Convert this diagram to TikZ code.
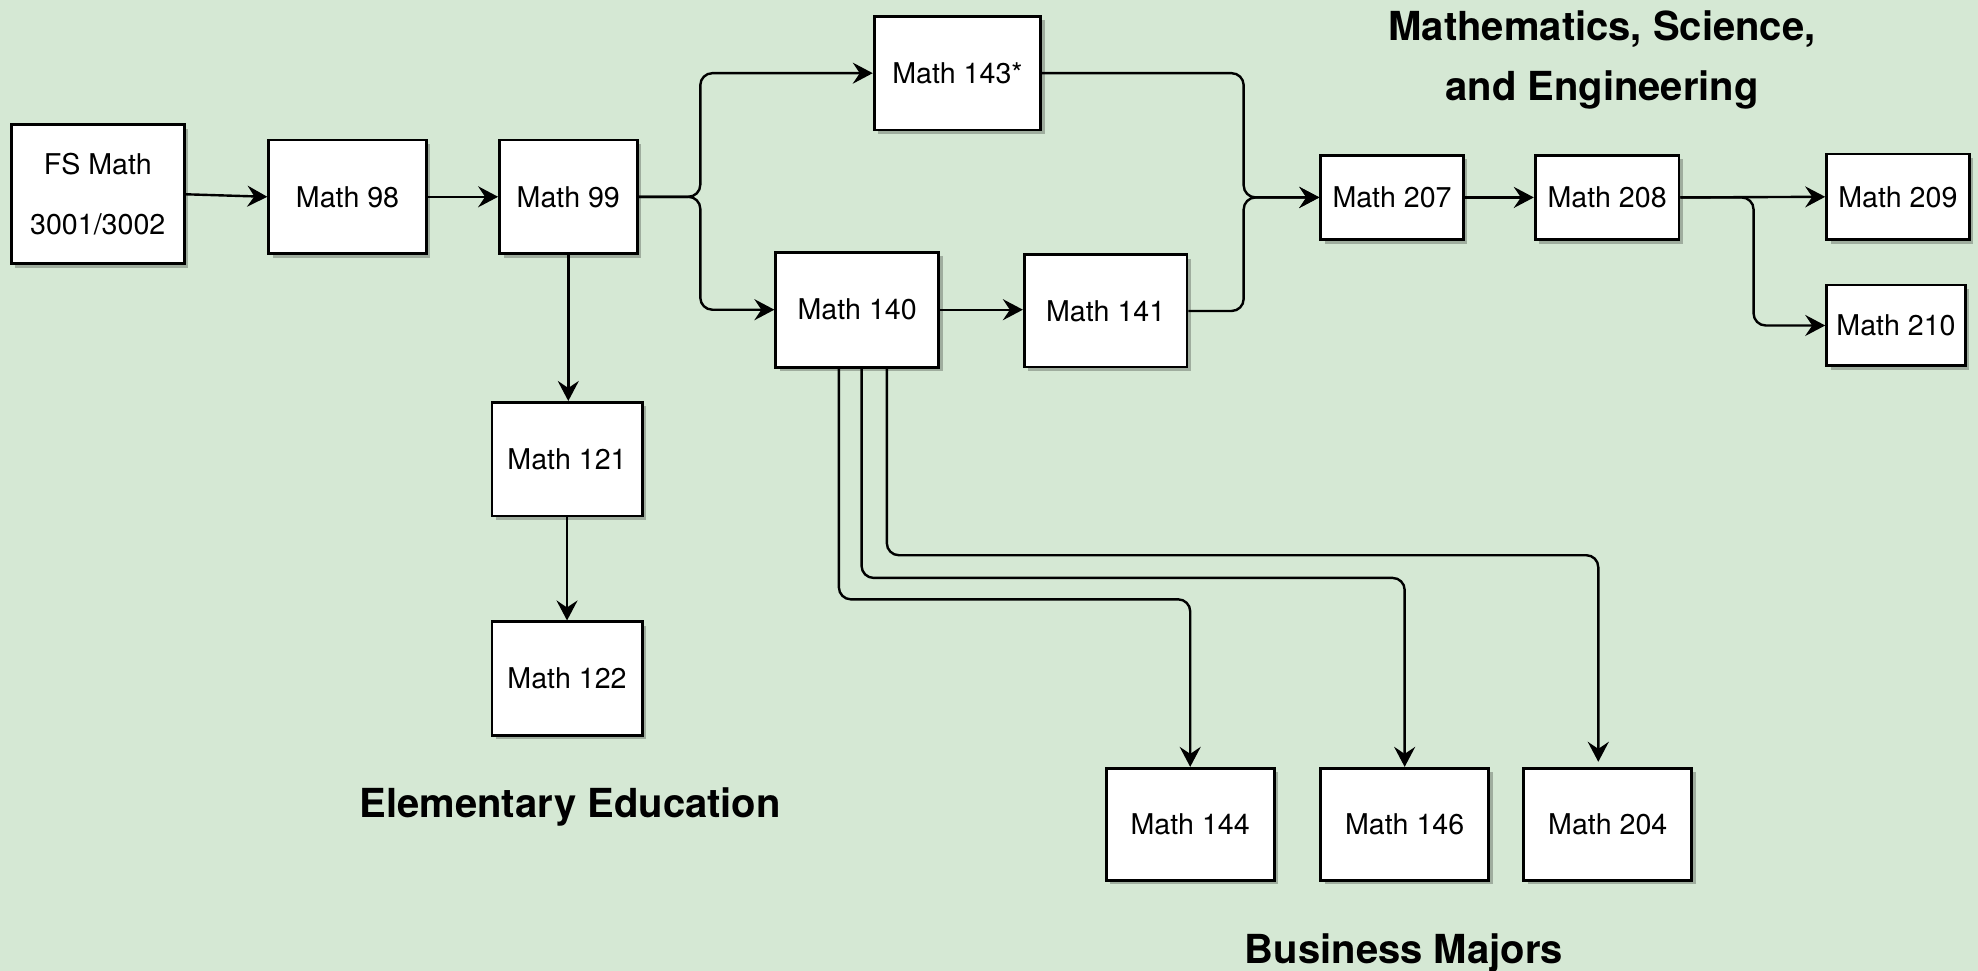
\documentclass[tikz,border=0pt]{standalone}
\usepackage{fontspec}
\setmainfont{TeX Gyre Heros}
\usetikzlibrary{arrows.meta,shadows,calc}
\definecolor{bggreen}{HTML}{D5E8D4}
\begin{document}
\begin{tikzpicture}[x=0.63075pt,y=-0.63075pt,
  box/.style={draw=black, line width=1.4pt, fill=white, inner sep=0pt,
    font=\fontsize{14.3}{17}\selectfont,
    drop shadow={shadow xshift=2pt,shadow yshift=-2pt,fill=black,opacity=0.25}},
  conn/.style={line width=1.2pt, -{Stealth[length=10pt,width=10.5pt,inset=3.5pt]}, rounded corners=6pt},
  title/.style={font=\fontsize{20}{30.3}\selectfont\bfseries, align=center, inner sep=0pt}]
\fill[bggreen] (0,0) rectangle (1568,769.7);
\useasboundingbox (0,0) rectangle (1568,769.7);

\node[box, minimum width=86.4pt, minimum height=69.4pt, align=center] (fs) at (77.5,154) {FS Math\\[13.3pt]3001/3002};
\node[box, minimum width=78.8pt, minimum height=56.8pt] (m98) at (275.5,156) {Math 98};
\node[box, minimum width=68.8pt, minimum height=56.8pt] (m99) at (450.5,156) {Math 99};
\node[box, minimum width=83.3pt, minimum height=56.8pt] (m143) at (759,58) {Math 143*};
\node[box, minimum width=81.4pt, minimum height=57.4pt] (m140) at (679.5,245.5) {Math 140};
\node[box, minimum width=81.4pt, minimum height=56.1pt] (m141) at (876.5,246.5) {Math 141};
\node[box, minimum width=75.1pt, minimum height=56.8pt] (m121) at (449.5,364) {Math 121};
\node[box, minimum width=75.1pt, minimum height=56.8pt] (m122) at (449.5,538) {Math 122};
\node[box, minimum width=71.3pt, minimum height=42.3pt] (m207) at (1103.5,156.5) {Math 207};
\node[box, minimum width=71.9pt, minimum height=42.3pt] (m208) at (1274,156.5) {Math 208};
\node[box, minimum width=71.3pt, minimum height=42.9pt] (m209) at (1504.5,156) {Math 209};
\node[box, minimum width=69.4pt, minimum height=40.4pt] (m210) at (1503,258) {Math 210};
\node[box, minimum width=83.9pt, minimum height=56.1pt] (m144) at (943.5,653.5) {Math 144};
\node[box, minimum width=83.9pt, minimum height=56.1pt] (m146) at (1113.5,653.5) {Math 146};
\node[box, minimum width=83.9pt, minimum height=56.1pt] (m204) at (1274.5,653.5) {Math 204};

\node[title] (tmse) at (1270,47.5) {Mathematics, Science,\\and Engineering};
\node[title] (tee) at (452,639.5) {Elementary Education};
\node[title] (tbm) at (1113,755.5) {Business Majors};

\draw[conn] (fs.east) -- (m98.west);
\draw[conn] (m98.east) -- (m99.west);
\draw[conn] (m99.east) -- ++(49,0) |- (m143.west);
\draw[conn] (m99.east) -- ++(49,0) |- (m140.west);
\draw[conn] (m140.east) -- (m140.east -| m141.west);
\draw[conn] (m143.east) -| ($(m207.west)+(-60,0)$) -- (m207.west);
\draw[conn] (m141.east) -| ($(m207.west)+(-60,0)$) -- (m207.west);
\draw[conn] (m207.east) -- (m208.west);
\draw[conn] (m208.east) -- (m209.west);
\draw[conn] (m208.east) -- ++(58,0) |- (m210.west);
\draw[conn] (m99.south) -- (m99.south |- m121.north);
\draw[conn] (m121.south) -- (m122.north);
\draw[conn] ($(m140.south)+(-14.5,0)$) -- ++(0,183) -| (m144.north);
\draw[conn] ($(m140.south)+(3.5,0)$) -- ++(0,166) -| (m146.north);
\draw[conn] ($(m140.south)+(23.5,0)$) -- ++(0,148) -| ($(m204.north)+(-7.5,-4)$);
\end{tikzpicture}
\end{document}
